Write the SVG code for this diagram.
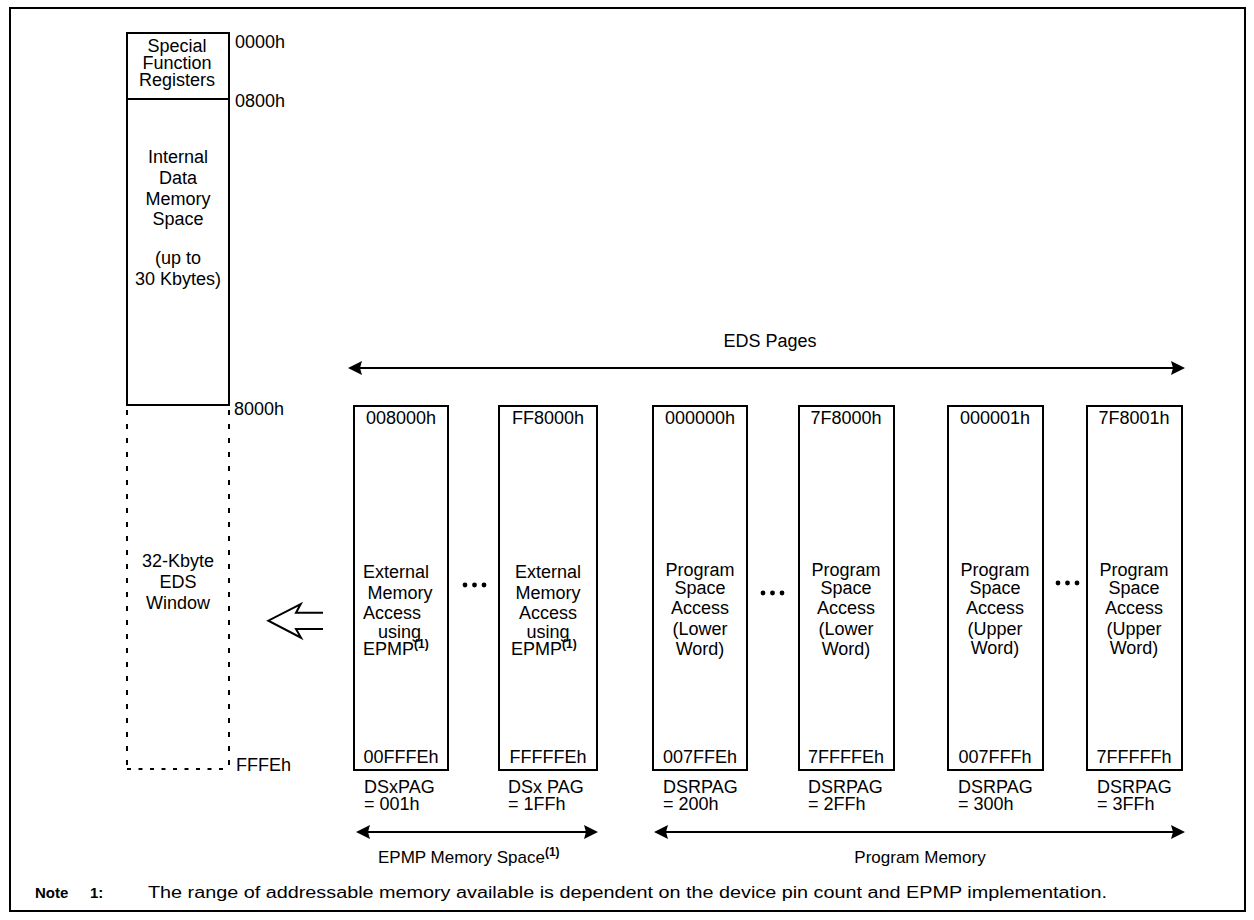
<svg xmlns="http://www.w3.org/2000/svg" width="1254" height="920" viewBox="0 0 1254 920">
<style>
text{font-family:"Liberation Sans",Arial,sans-serif;font-size:18px;fill:#000}
.c{text-anchor:middle}
.sup{font-size:12px;font-weight:bold}
.box{fill:#fff;stroke:#000;stroke-width:2}
.ln{fill:none;stroke:#000;stroke-width:2}
.dv{fill:none;stroke:#000;stroke-width:2;stroke-dasharray:5 9}
.dh{fill:none;stroke:#000;stroke-width:2;stroke-dasharray:4 7.5}
.arr{fill:none;stroke:#000;stroke-width:2;marker-start:url(#ah);marker-end:url(#ah)}
.lbl{font-size:17px}
.note{font-size:16px}
.b{font-weight:bold;font-size:15px}
</style>
<defs>
<marker id="ah" markerUnits="userSpaceOnUse" markerWidth="16" markerHeight="16" refX="10" refY="7" orient="auto-start-reverse" viewBox="0 0 16 14">
<path d="M0,0 L14,7 L0,14 L2,7 z" fill="#000"/>
</marker>
</defs>
<rect x="10" y="8" width="1235" height="903" fill="#fff" stroke="#000" stroke-width="2"/>

<g id="sfr">
<rect class="box" x="127" y="33" width="102" height="66"/>
<text class="c" x="177" y="52">Special</text>
<text class="c" x="177" y="69">Function</text>
<text class="c" x="177" y="86">Registers</text>
</g>
<g id="internal-data">
<rect class="box" x="127" y="99" width="102" height="306"/>
<text class="c" x="178" y="163">Internal</text>
<text class="c" x="178" y="184">Data</text>
<text class="c" x="178" y="205">Memory</text>
<text class="c" x="178" y="225">Space</text>
<text class="c" x="178" y="264">(up to</text>
<text class="c" x="178" y="285">30 Kbytes)</text>
</g>
<g id="eds-window">
<line class="dv" x1="127" y1="410" x2="127" y2="769"/>
<line class="dv" x1="229" y1="410" x2="229" y2="769"/>
<line class="dh" x1="127" y1="769" x2="229" y2="769"/>
<text class="c" x="178" y="567">32-Kbyte</text>
<text class="c" x="178" y="588">EDS</text>
<text class="c" x="178" y="609">Window</text>
</g>
<g id="addr-labels">
<text x="235" y="48">0000h</text>
<text x="235" y="107">0800h</text>
<text x="234" y="415">8000h</text>
<text x="236" y="771">FFFEh</text>
</g>

<g id="page-1">
<rect class="box" x="354" y="406" width="94" height="364"/>
<text class="c" x="401" y="424">008000h</text>
<text x="363" y="578">External</text>
<text class="c" x="400" y="599">Memory</text>
<text x="363" y="619">Access</text>
<text x="378" y="638">using</text>
<text x="363" y="655">EPMP<tspan class="sup" dy="-7">(1)</tspan></text>
<text class="c" x="401" y="763">00FFFEh</text>
<text x="364" y="793">DSxPAG</text>
<text x="364" y="810">= 001h</text>
</g>
<g id="page-2">
<rect class="box" x="499" y="406" width="98" height="364"/>
<text class="c" x="548" y="424">FF8000h</text>
<text class="c" x="548" y="578">External</text>
<text class="c" x="548" y="599">Memory</text>
<text class="c" x="548" y="619">Access</text>
<text class="c" x="548" y="638">using</text>
<text x="511" y="655">EPMP<tspan class="sup" dy="-7">(1)</tspan></text>
<text class="c" x="548" y="763">FFFFFEh</text>
<text x="508" y="793">DSx PAG</text>
<text x="508" y="810">= 1FFh</text>
</g>
<g id="page-3">
<rect class="box" x="653" y="406" width="94" height="364"/>
<text class="c" x="700" y="424">000000h</text>
<text class="c" x="700" y="576">Program</text>
<text class="c" x="700" y="594">Space</text>
<text class="c" x="700" y="614">Access</text>
<text class="c" x="700" y="635">(Lower</text>
<text class="c" x="700" y="655">Word)</text>
<text class="c" x="700" y="763">007FFEh</text>
<text x="663" y="793">DSRPAG</text>
<text x="663" y="810">= 200h</text>
</g>
<g id="page-4">
<rect class="box" x="799" y="406" width="95" height="364"/>
<text class="c" x="846" y="424">7F8000h</text>
<text class="c" x="846" y="576">Program</text>
<text class="c" x="846" y="594">Space</text>
<text class="c" x="846" y="614">Access</text>
<text class="c" x="846" y="635">(Lower</text>
<text class="c" x="846" y="655">Word)</text>
<text class="c" x="846" y="763">7FFFFEh</text>
<text x="808" y="793">DSRPAG</text>
<text x="808" y="810">= 2FFh</text>
</g>
<g id="page-5">
<rect class="box" x="948" y="406" width="95" height="364"/>
<text class="c" x="995" y="424">000001h</text>
<text class="c" x="995" y="576">Program</text>
<text class="c" x="995" y="594">Space</text>
<text class="c" x="995" y="614">Access</text>
<text class="c" x="995" y="635">(Upper</text>
<text class="c" x="995" y="654">Word)</text>
<text class="c" x="995" y="763">007FFFh</text>
<text x="958" y="793">DSRPAG</text>
<text x="958" y="810">= 300h</text>
</g>
<g id="page-6">
<rect class="box" x="1087" y="406" width="95" height="364"/>
<text class="c" x="1134" y="424">7F8001h</text>
<text class="c" x="1134" y="576">Program</text>
<text class="c" x="1134" y="594">Space</text>
<text class="c" x="1134" y="614">Access</text>
<text class="c" x="1134" y="635">(Upper</text>
<text class="c" x="1134" y="654">Word)</text>
<text class="c" x="1134" y="763">7FFFFFh</text>
<text x="1097" y="793">DSRPAG</text>
<text x="1097" y="810">= 3FFh</text>
</g>

<g id="ellipses" fill="#000">
<circle cx="465" cy="585" r="2.4"/><circle cx="474.5" cy="585" r="2.4"/><circle cx="484" cy="585" r="2.4"/>
<circle cx="763" cy="593" r="2.4"/><circle cx="772.5" cy="593" r="2.4"/><circle cx="782" cy="593" r="2.4"/>
<circle cx="1058" cy="583" r="2.4"/><circle cx="1067.5" cy="583" r="2.4"/><circle cx="1077" cy="583" r="2.4"/>
</g>

<g id="connectors">
<line class="arr" x1="352" y1="368" x2="1181" y2="368"/>
<line class="arr" x1="360" y1="832" x2="594" y2="832"/>
<line class="arr" x1="658" y1="832" x2="1181" y2="832"/>
<polyline class="ln" stroke-width="1.3" points="323,612.7 296,612.7 300.7,604 268.3,620.7 301,637.7 296,629 323,629"/>
</g>

<g id="labels">
<text class="c" x="770" y="347">EDS Pages</text>
<text class="lbl" x="378" y="863">EPMP Memory Space<tspan class="sup" dy="-7">(1)</tspan></text>
<text class="c lbl" x="920" y="863">Program Memory</text>
<text class="b" x="35" y="898">Note</text>
<text class="b" x="90" y="898">1:</text>
<text class="note" x="148" y="898" textLength="959" lengthAdjust="spacingAndGlyphs">The range of addressable memory available is dependent on the device pin count and EPMP implementation.</text>
</g>
</svg>
